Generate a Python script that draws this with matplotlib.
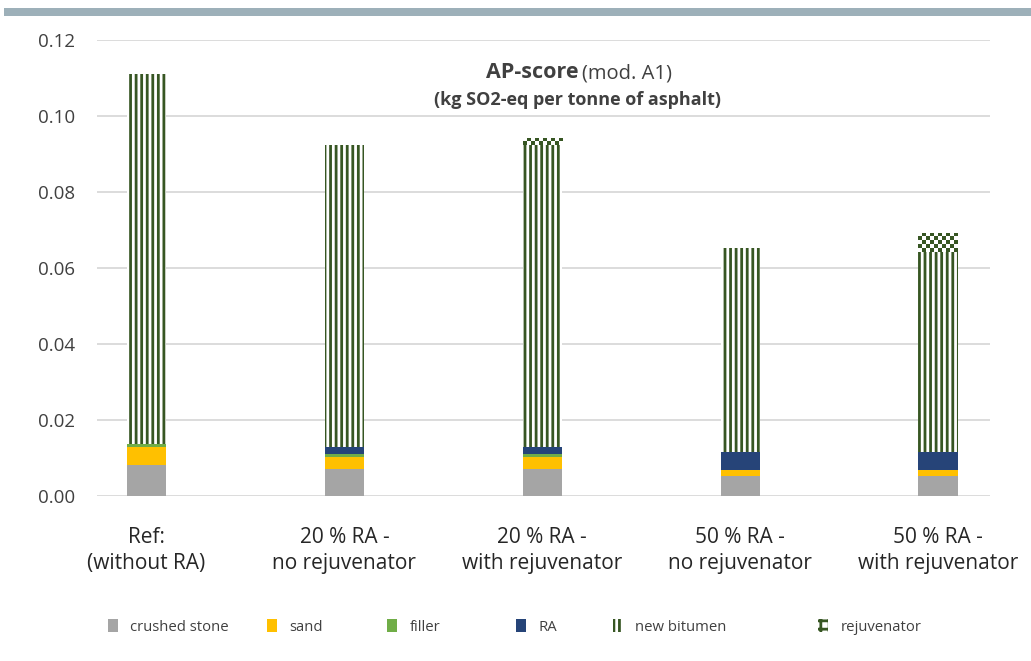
import numpy as np
import matplotlib
matplotlib.use("Agg")
import matplotlib.pyplot as plt
from matplotlib.patches import Rectangle, Patch
from matplotlib.colors import ListedColormap

plt.rcParams['font.family'] = ['Open Sans', 'DejaVu Sans']
plt.rcParams['hatch.linewidth'] = 2.0

categories = ["Ref:\n(without RA)", "20 % RA -\nno rejuvenator", "20 % RA -\nwith rejuvenator",
              "50 % RA -\nno rejuvenator", "50 % RA -\nwith rejuvenator"]
crushed_stone = [0.0082, 0.0071, 0.0071, 0.0053, 0.0053]
sand =          [0.0047, 0.0032, 0.0032, 0.0015, 0.0015]
filler =        [0.0008, 0.0007, 0.0007, 0.0000, 0.0000]
ra =            [0.0000, 0.0020, 0.0020, 0.0047, 0.0047]
new_bitumen =   [0.0973, 0.0794, 0.0794, 0.0538, 0.0527]
rejuvenator =   [0.0000, 0.0000, 0.0018, 0.0000, 0.0050]
yticks = [0.00, 0.02, 0.04, 0.06, 0.08, 0.10, 0.12]

c_stone = '#A5A5A5'
c_sand = '#FFC000'
c_filler = '#70AD47'
c_ra = '#264478'
c_green = '#375623'
txt = '#404040'

fig = plt.figure(figsize=(10.31, 6.61), dpi=100)
ax = fig.add_axes([0.094, 0.2496, 0.866, 0.6899])

x = np.arange(len(categories))
w = 0.2
bottom = np.zeros(len(categories))
for vals, col in [(crushed_stone, c_stone), (sand, c_sand), (filler, c_filler), (ra, c_ra)]:
    v = np.array(vals)
    ax.bar(x, v, w, bottom=bottom, color=col, edgecolor='none', zorder=3)
    bottom += v

v = np.array(new_bitumen)
ax.bar(x, v, w, bottom=bottom, facecolor='white', edgecolor=c_green, hatch='|||', linewidth=0, zorder=3)
bottom += v

v = np.array(rejuvenator)
rej_bars = ax.bar(x, v, w, bottom=bottom, facecolor='white', edgecolor='none', linewidth=0, zorder=3)
cmap = ListedColormap(['white', c_green])
for b, val in zip(rej_bars, rejuvenator):
    if val <= 0:
        continue
    x0, y0, bw, bh = b.get_x(), b.get_y(), b.get_width(), b.get_height()
    ny = max(2, int(round(bh / 0.0011)))
    nx = 10
    arr = (np.indices((ny, nx)).sum(axis=0) % 2)
    im = ax.imshow(arr, cmap=cmap, extent=(x0, x0 + bw, y0, y0 + bh), aspect='auto',
                   interpolation='nearest', zorder=4)
    im.set_clip_path(b)

ax.set_xlim(-0.25, 4.26)
ax.set_ylim(0, 0.12)
ax.set_yticks(yticks)
ax.set_yticklabels([f"{t:.2f}" for t in yticks])
ax.set_xticks(x)
ax.set_xticklabels(categories, fontsize=15, color='#262626', linespacing=1.32)
ax.tick_params(axis='y', labelsize=13.5, colors=txt, length=0, pad=16)
ax.tick_params(axis='x', length=0, pad=22)
ax.grid(axis='y', color='#D9D9D9', linewidth=1.3, zorder=0)
ax.set_axisbelow(True)
for s in ax.spines.values():
    s.set_visible(False)

# top band
fig.patches.append(Rectangle((0.004, 1 - 16/661), 0.996, 8/661, transform=fig.transFigure,
                             facecolor='#9DB0B9', edgecolor='none'))

# title
fig.text(578/1031, 1 - 73/661, "AP-score", ha='right', va='center', fontsize=15.5,
         fontweight='bold', color=txt)
fig.text(582/1031, 1 - 73/661, "(mod. A1)", ha='left', va='center', fontsize=14.5, color=txt)
fig.text(578/1031, 1 - 100/661, "(kg SO2-eq per tonne of asphalt)", ha='center', va='center',
         fontsize=13, fontweight='bold', color=txt)

# legend entries
entries = [
    ("crushed stone", dict(facecolor=c_stone, edgecolor='none'), 108),
    ("sand", dict(facecolor=c_sand, edgecolor='none'), 267),
    ("filler", dict(facecolor=c_filler, edgecolor='none'), 387),
    ("RA", dict(facecolor=c_ra, edgecolor='none'), 516),
    ("new bitumen", dict(facecolor='white', edgecolor=c_green, hatch='|||', linewidth=0), 613),
    ("rejuvenator", dict(facecolor='white', edgecolor=c_green, hatch='++', linewidth=0), 818),
]
for label, kw, px in entries:
    h = Patch(label=label, **kw)
    leg = fig.legend(handles=[h], loc='center left', bbox_to_anchor=(px/1031, 1 - 627/661),
                     frameon=False, fontsize=10.7, handlelength=0.7, handleheight=0.9,
                     handletextpad=0.8, borderpad=0, borderaxespad=0)
    for t in leg.get_texts():
        t.set_color(txt)

fig.savefig("out.png", dpi=100, facecolor='white')
